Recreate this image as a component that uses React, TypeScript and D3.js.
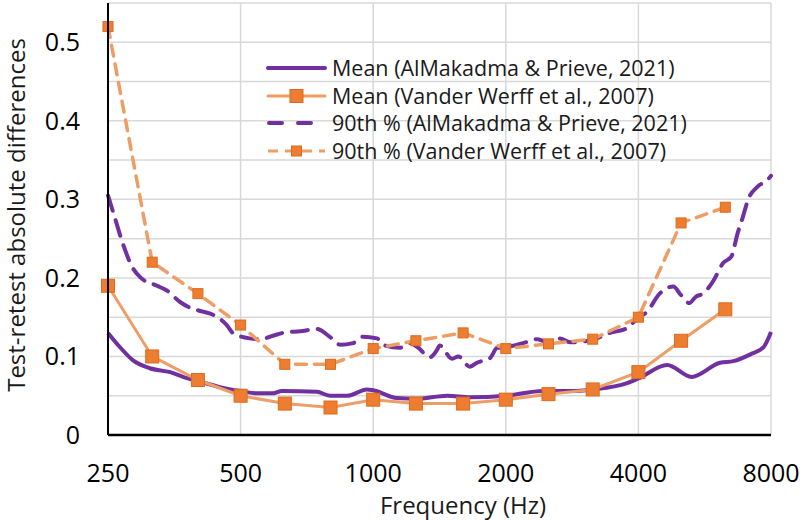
import * as d3 from "d3";

// AlMakadma & Prieve (2021), continuous curves: [frequency Hz, value]
const almMean: [number, number][] = [
  [250, 0.13], [266, 0.112], [285, 0.095], [311, 0.085], [346, 0.08], [370, 0.074],
  [404, 0.068], [449, 0.061], [500, 0.056], [545, 0.053], [593, 0.053], [620, 0.056],
  [745, 0.055], [797, 0.05], [873, 0.05], [968, 0.058], [1000, 0.057], [1132, 0.047],
  [1250, 0.046], [1473, 0.05], [1658, 0.048], [2000, 0.05], [2430, 0.056], [2800, 0.056],
  [3150, 0.058], [3770, 0.066], [4000, 0.072], [4650, 0.089], [5280, 0.074], [6130, 0.092],
  [6570, 0.094], [7200, 0.103], [7700, 0.112], [8000, 0.131],
];

const alm90: [number, number][] = [
  [250, 0.305], [259, 0.277], [270, 0.244], [285, 0.212], [297, 0.2], [323, 0.19],
  [340, 0.184], [365, 0.169], [384, 0.162], [411, 0.157], [433, 0.153], [465, 0.14],
  [480, 0.13], [524, 0.123], [553, 0.122], [605, 0.128], [636, 0.131], [683, 0.132],
  [745, 0.135], [797, 0.125], [841, 0.115], [900, 0.117], [946, 0.125], [1020, 0.123],
  [1062, 0.114], [1150, 0.111], [1212, 0.117], [1260, 0.112], [1345, 0.099], [1395, 0.108],
  [1416, 0.114], [1510, 0.097], [1560, 0.1], [1658, 0.087], [1720, 0.092], [1842, 0.098],
  [1912, 0.111], [2000, 0.112], [2190, 0.117], [2357, 0.122], [2520, 0.117], [2650, 0.123],
  [2800, 0.118], [3130, 0.121], [3450, 0.13], [3770, 0.136], [4000, 0.15], [4170, 0.156],
  [4470, 0.18], [4800, 0.189], [5000, 0.178], [5220, 0.168], [5400, 0.176], [5600, 0.18],
  [5800, 0.189], [5930, 0.197], [6230, 0.219], [6500, 0.227], [6720, 0.257], [6910, 0.278],
  [7090, 0.299], [7450, 0.316], [7830, 0.324], [8000, 0.33],
];

// Vander Werff et al. (2007), one-third octave points
const vwFreqs = [250, 315, 400, 500, 630, 800, 1000, 1250, 1600, 2000, 2500, 3150, 4000, 5000, 6300];
const vwMean = [0.19, 0.1, 0.07, 0.05, 0.04, 0.035, 0.045, 0.04, 0.04, 0.045, 0.052, 0.058, 0.08, 0.12, 0.16];
const vw90 = [0.52, 0.22, 0.18, 0.14, 0.09, 0.09, 0.11, 0.12, 0.13, 0.11, 0.116, 0.122, 0.15, 0.27, 0.29];

const xTicks = [250, 500, 1000, 2000, 4000, 8000];
const yLabelTicks = [0, 0.1, 0.2, 0.3, 0.4, 0.5];
const yGridTicks = d3.range(0, 0.5501, 0.05);

const legendLabels = [
  "Mean (AlMakadma & Prieve, 2021)",
  "Mean (Vander Werff et al., 2007)",
  "90th % (AlMakadma & Prieve, 2021)",
  "90th % (Vander Werff et al., 2007)",
];

const PURPLE = "#7030A0";
const ORANGE_LINE = "#EE9D66";
const ORANGE_FILL = "#ED7D31";
const ORANGE_EDGE = "#E0691C";
const FONT = "'Open Sans', Lato, sans-serif";

export default function App() {
  const width = 800;
  const height = 520;
  const margin = { top: 3, right: 29, bottom: 85, left: 108 };
  const innerW = width - margin.left - margin.right;
  const innerH = height - margin.top - margin.bottom;

  const x = d3.scaleLog().base(2).domain([250, 8000]).range([0, innerW]);
  const y = d3.scaleLinear().domain([0, 0.55]).range([innerH, 0]);

  const line = d3
    .line<[number, number]>()
    .x((d) => x(d[0]))
    .y((d) => y(d[1]))
    .curve(d3.curveMonotoneX);

  const straight = d3
    .line<[number, number]>()
    .x((d) => x(d[0]))
    .y((d) => y(d[1]));

  const vwMeanPts: [number, number][] = vwFreqs.map((f, i) => [f, vwMean[i]]);
  const vw90Pts: [number, number][] = vwFreqs.map((f, i) => [f, vw90[i]]);

  const legendRows = [68, 96, 123, 151];
  const legendX0 = 268 - margin.left;
  const legendX1 = 325 - margin.left;

  return (
    <svg
      width={width}
      height={height}
      style={{ position: "absolute", left: 0, top: 0, background: "#fff" }}
      fontFamily={FONT}
    >
      <g transform={`translate(${margin.left},${margin.top})`}>
        {/* grid */}
        {yGridTicks.map((t) => (
          <line key={"gy" + t} x1={0} x2={innerW} y1={y(t)} y2={y(t)} stroke="#d9d9d9" strokeWidth={1.5} />
        ))}
        {xTicks.map((t) => (
          <line key={"gx" + t} x1={x(t)} x2={x(t)} y1={0} y2={innerH} stroke="#d9d9d9" strokeWidth={1.5} />
        ))}

        {/* series */}
        <path d={line(almMean) || ""} fill="none" stroke={PURPLE} strokeWidth={4} strokeLinejoin="round" />
        <path d={straight(vwMeanPts) || ""} fill="none" stroke={ORANGE_LINE} strokeWidth={3} />
        {vwMeanPts.map((d, i) => (
          <rect
            key={"m" + i}
            x={x(d[0]) - 6.5}
            y={y(d[1]) - 6.5}
            width={13}
            height={13}
            fill={ORANGE_FILL}
            stroke={ORANGE_EDGE}
            strokeWidth={1}
          />
        ))}
        <path
          d={line(alm90) || ""}
          fill="none"
          stroke={PURPLE}
          strokeWidth={4}
          strokeDasharray="16,10"
          strokeLinecap="round"
        />
        <path
          d={straight(vw90Pts) || ""}
          fill="none"
          stroke={ORANGE_LINE}
          strokeWidth={3.5}
          strokeDasharray="11,8"
          strokeLinecap="round"
        />
        {vw90Pts.map((d, i) => (
          <rect
            key={"n" + i}
            x={x(d[0]) - 5}
            y={y(d[1]) - 5}
            width={10}
            height={10}
            fill={ORANGE_FILL}
            stroke={ORANGE_EDGE}
            strokeWidth={1}
          />
        ))}

        {/* axes */}
        <line x1={0} x2={0} y1={0} y2={innerH} stroke="#000" strokeWidth={2} />
        <line x1={0} x2={innerW} y1={innerH} y2={innerH} stroke="#000" strokeWidth={2.5} />

        {yLabelTicks.map((t) => (
          <text key={"yl" + t} x={-28} y={y(t)} dy="0.36em" textAnchor="end" fontSize={25} fill="#000">
            {t === 0 ? "0" : d3.format(".1f")(t)}
          </text>
        ))}
        {xTicks.map((t) => (
          <text key={"xl" + t} x={x(t)} y={innerH + 47} textAnchor="middle" fontSize={25} fill="#000">
            {t}
          </text>
        ))}

        {/* legend */}
        {legendLabels.map((label, i) => {
          const ly = legendRows[i] - margin.top;
          const mid = (legendX0 + legendX1) / 2;
          return (
            <g key={"lg" + i}>
              {i === 0 && (
                <line x1={legendX0} x2={legendX1} y1={ly} y2={ly} stroke={PURPLE} strokeWidth={4} strokeLinecap="round" />
              )}
              {i === 1 && (
                <>
                  <line x1={legendX0} x2={legendX1} y1={ly} y2={ly} stroke={ORANGE_LINE} strokeWidth={3} strokeLinecap="round" />
                  <rect x={mid - 6.5} y={ly - 6.5} width={13} height={13} fill={ORANGE_FILL} stroke={ORANGE_EDGE} />
                </>
              )}
              {i === 2 && (
                <line
                  x1={legendX0 + 1}
                  x2={legendX1}
                  y1={ly}
                  y2={ly}
                  stroke={PURPLE}
                  strokeWidth={4}
                  strokeDasharray="13,16"
                  strokeLinecap="round"
                />
              )}
              {i === 3 && (
                <>
                  <line
                    x1={legendX0}
                    x2={legendX1}
                    y1={ly}
                    y2={ly}
                    stroke={ORANGE_LINE}
                    strokeWidth={3}
                    strokeDasharray="10,7"
                  />
                  <rect x={mid - 5} y={ly - 5} width={10} height={10} fill={ORANGE_FILL} stroke={ORANGE_EDGE} />
                </>
              )}
              <text x={legendX1 + 7} y={ly} dy="0.35em" fontSize={21.5} fill="#1a1a1a">
                {label}
              </text>
            </g>
          );
        })}
      </g>

      {/* axis titles */}
      <text x={463} y={514} textAnchor="middle" fontSize={24} fill="#1a1a1a">
        Frequency (Hz)
      </text>
      <text
        transform={`translate(25,${215}) rotate(-90)`}
        textAnchor="middle"
        fontSize={24}
        fill="#1a1a1a"
      >
        Test-retest absolute differences
      </text>
    </svg>
  );
}
